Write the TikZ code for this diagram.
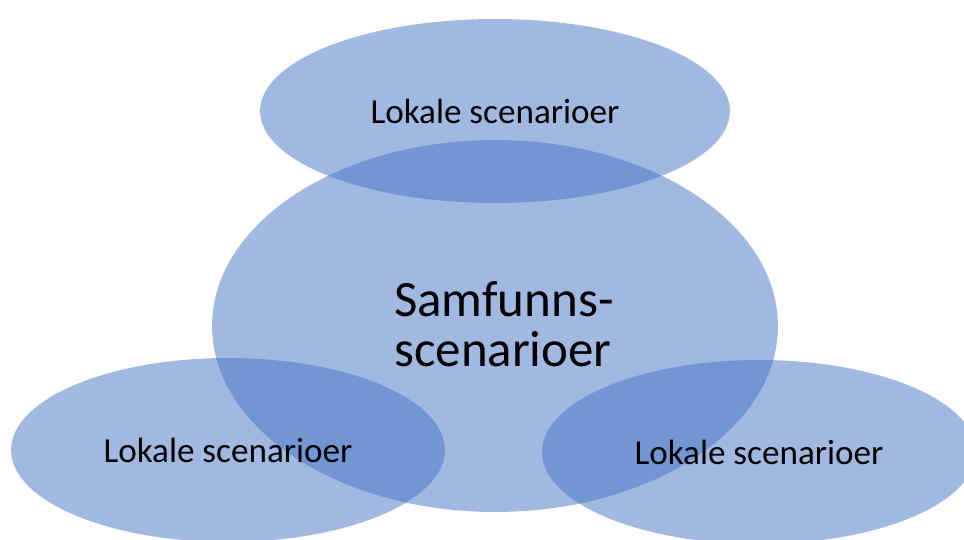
\documentclass[tikz,border=0pt]{standalone}
\usepackage{fontspec}
\setmainfont{Carlito}
\usetikzlibrary{shapes.geometric}
\definecolor{blobblue}{HTML}{4472C4}
\begin{document}
\begin{tikzpicture}[x=0.02cm,y=-0.02cm]

    \tikzset{
      blob/.style={
        ellipse,
        fill=blobblue,
        fill opacity=0.5,
        text opacity=1,
        text=black,
        inner sep=0pt,
        align=center,
      },
      lokal/.style={
        blob,
        minimum width=8.68cm,
        minimum height=3.68cm,
        font=\fontsize{20}{24}\selectfont,
      },
    }
    \clip (0,0) rectangle (964,540);
	\node[blob, minimum width=11.32cm, minimum height=7.44cm] (samfunn) at (495,326) {};
	\node[lokal, minimum width=9.4cm] (lokaltopp) at (495,111) {Lokale scenarioer};
	\node[lokal] (lokalvenstre) at (228,450) {Lokale scenarioer};
	\node[lokal] (lokalhoyre) at (759,452) {Lokale scenarioer};
	\node[align=left, inner sep=0pt, font=\fontsize{29}{28.5}\selectfont] (samfunnstekst) at (504,324) {Samfunns-\\scenarioer};

\end{tikzpicture}
\end{document}
